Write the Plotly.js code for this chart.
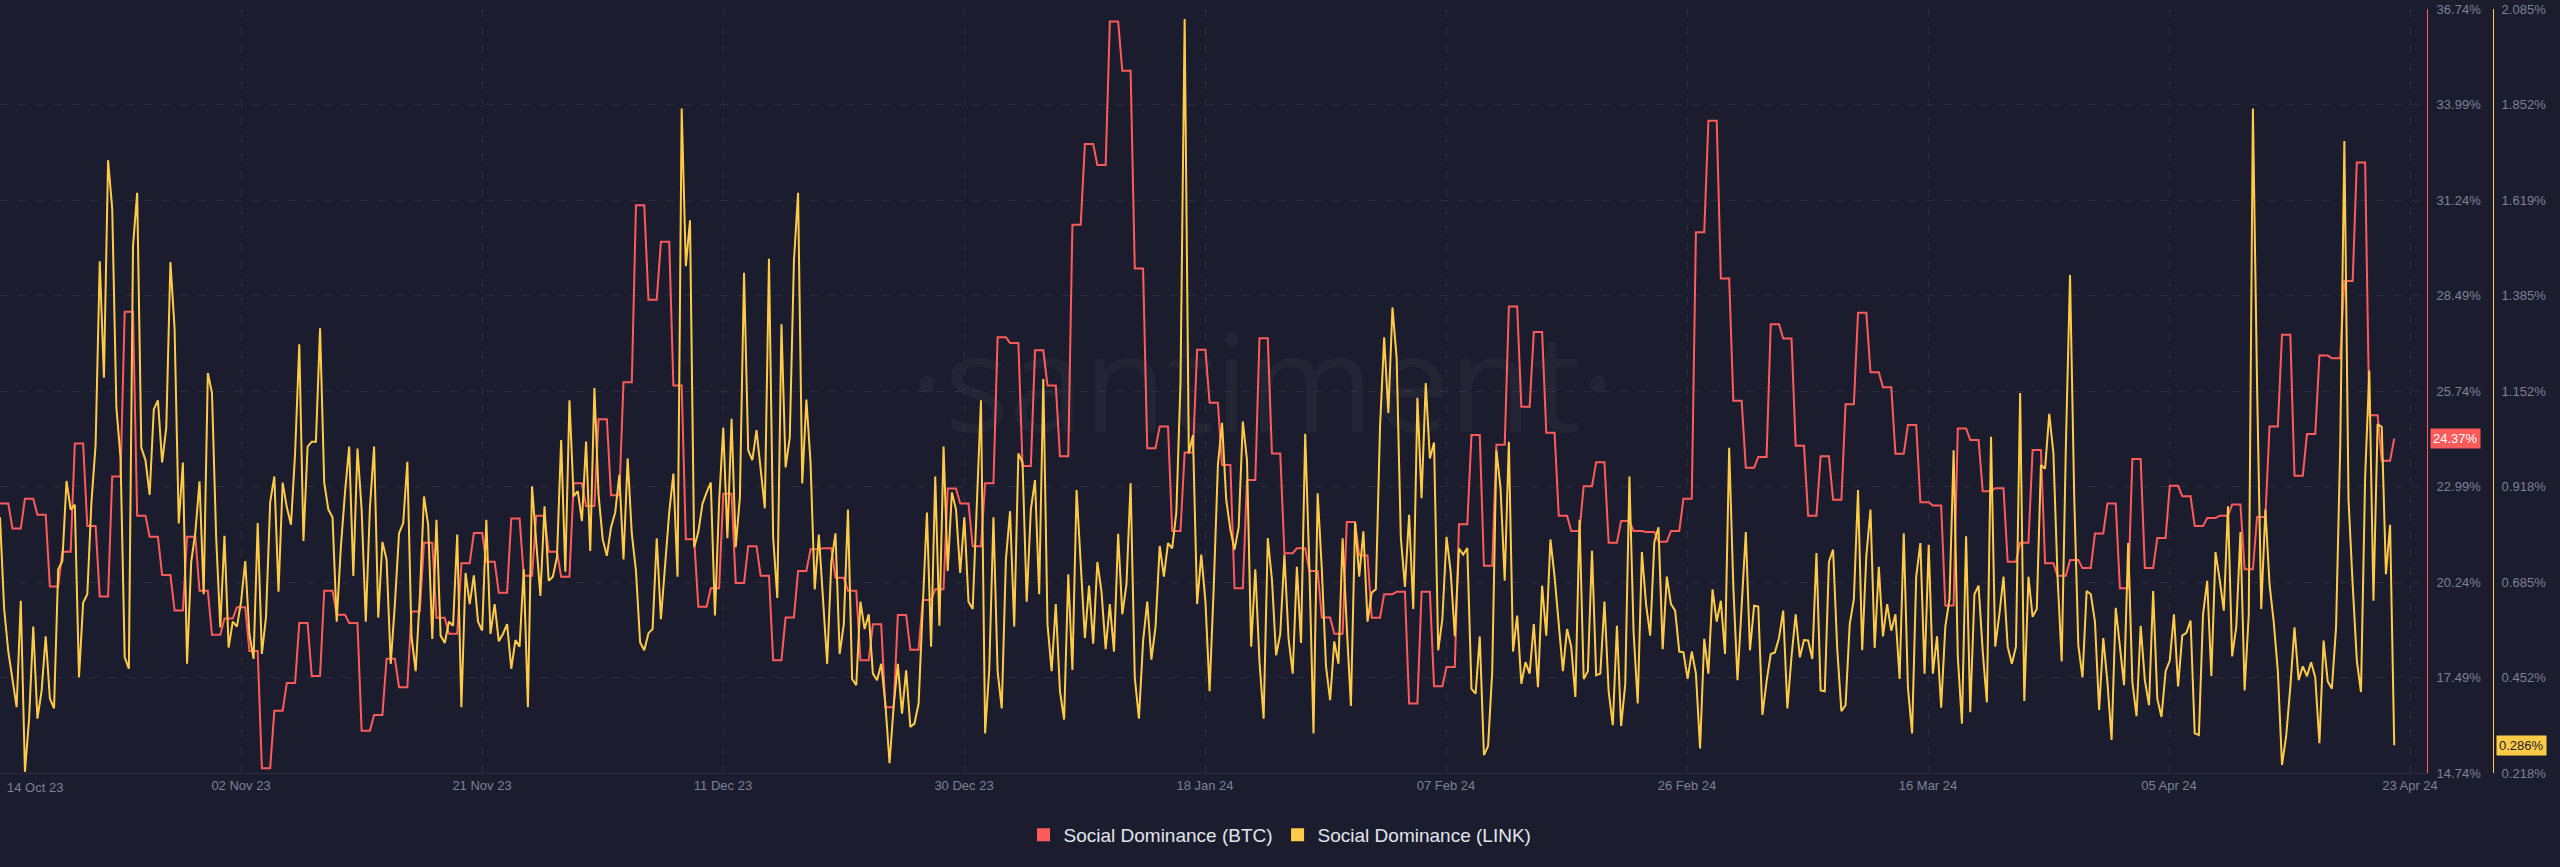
<!DOCTYPE html>
<html>
<head>
<meta charset="utf-8">
<script src="https://cdn.plot.ly/plotly-3.0.1.min.js"></script>
<style>
html,body{margin:0;padding:0;background:#1b1c2d;}
#chart{width:2560px;height:867px;}
</style>
</head>
<body>
<div id="chart"></div>
<script>
// ---------- DATA ----------
const startDate = '2023-10-14T00:00:00Z';   // first sample
const stepHours = 8;                         // sampling interval

// Social Dominance (BTC), one value per day (last day: first sample only)
const btcDaily = [
22.50,21.78,22.64,22.18,20.11,21.11,24.23,21.85,19.82,23.28,
28.02,22.15,21.54,20.44,19.42,21.54,19.99,18.72,19.19,19.51,
18.25,14.88,16.53,17.33,19.06,17.53,19.99,19.30,19.06,15.96,
16.41,18.03,17.21,19.39,21.37,19.21,18.75,20.78,21.65,20.82,
19.93,22.07,20.42,22.15,21.11,20.39,23.08,22.43,24.93,22.74,
25.99,31.09,28.37,30.04,25.90,21.47,19.53,20.06,22.78,20.21,
21.27,20.42,17.99,19.22,20.56,21.18,21.21,20.36,19.99,17.99,
19.02,16.63,19.29,18.29,19.72,20.03,22.93,22.50,21.27,23.08,
27.29,27.12,23.58,26.91,25.90,23.86,30.53,32.85,32.25,36.38,
34.96,29.27,24.09,24.72,21.71,23.97,26.93,25.40,23.61,20.06,
23.18,27.26,23.94,21.07,21.21,20.56,19.22,18.75,21.97,21.00,
19.21,19.89,19.96,16.74,19.96,17.24,17.79,21.90,24.47,20.71,
24.19,28.17,25.29,27.44,24.54,22.15,21.71,23.00,23.69,21.37,
22.00,21.71,21.68,21.40,21.71,22.64,30.31,33.52,28.98,25.46,
23.53,23.84,27.66,27.25,24.16,22.15,23.86,22.61,25.36,27.99,
26.28,25.85,23.93,24.76,22.54,22.44,19.56,24.66,24.33,22.85,
22.94,20.82,21.37,24.04,20.78,20.42,20.87,20.64,21.64,22.50,
20.06,23.78,20.64,21.51,23.01,22.71,21.85,22.08,22.15,22.47,
20.61,22.11,24.72,27.36,23.30,24.50,26.76,26.68,28.91,32.32,
25.04,23.73,24.37
];
const btcSamplesPerDay = 3;

// Social Dominance (LINK), one value every 8 hours
const linkValues = [
0.843,0.619,0.515,0.448,0.379,0.639,0.221,0.351,0.576,0.351,
0.418,0.552,0.400,0.376,0.716,0.736,0.932,0.862,0.874,0.452,
0.634,0.655,0.880,1.020,1.469,1.184,1.716,1.597,1.111,0.989,
0.501,0.473,1.506,1.636,1.013,0.983,0.898,1.107,1.129,0.977,
1.062,1.467,1.305,0.828,0.977,0.485,0.734,0.807,0.931,0.655,
1.196,1.147,0.795,0.574,0.798,0.525,0.588,0.576,0.637,0.736,
0.558,0.497,0.829,0.509,0.600,0.880,0.943,0.661,0.928,0.868,
0.825,1.001,1.266,0.785,1.016,1.028,1.028,1.305,0.928,0.862,
0.843,0.588,0.770,0.904,1.016,0.700,1.011,0.862,0.588,0.868,
1.016,0.598,0.783,0.740,0.485,0.631,0.804,0.829,0.979,0.552,
0.467,0.649,0.894,0.825,0.546,0.837,0.554,0.536,0.588,0.578,
0.801,0.379,0.707,0.631,0.701,0.588,0.566,0.837,0.558,0.631,
0.540,0.558,0.582,0.473,0.543,0.527,0.716,0.379,0.919,0.783,
0.651,0.870,0.688,0.698,0.746,1.032,0.710,1.129,0.894,0.907,
0.834,1.028,0.761,1.159,0.898,0.789,0.749,0.819,0.855,0.947,
0.740,0.987,0.803,0.712,0.537,0.518,0.560,0.570,0.792,0.594,
0.722,0.855,0.950,0.698,1.842,1.457,1.569,0.770,0.807,0.876,
0.904,0.928,0.603,0.880,1.062,0.792,1.084,0.770,0.892,1.441,
1.007,0.983,1.056,0.959,0.865,1.475,0.795,0.646,1.315,0.965,
1.038,1.469,1.636,0.926,1.131,0.977,0.667,0.801,0.649,0.485,
0.734,0.804,0.509,0.582,0.862,0.448,0.433,0.637,0.570,0.606,
0.461,0.445,0.485,0.388,0.242,0.382,0.485,0.363,0.469,0.331,
0.339,0.388,0.625,0.855,0.527,0.943,0.578,1.016,0.712,0.904,
0.862,0.707,0.843,0.637,0.619,0.892,1.129,0.315,0.473,0.843,
0.467,0.376,0.740,0.858,0.576,0.999,0.977,0.637,0.862,0.934,
0.655,1.181,0.582,0.467,0.631,0.418,0.349,0.704,0.470,0.910,
0.740,0.548,0.676,0.534,0.734,0.661,0.521,0.631,0.515,0.803,
0.606,0.679,0.926,0.452,0.351,0.540,0.637,0.495,0.576,0.773,
0.698,0.780,0.767,0.855,1.171,2.061,0.999,1.044,0.631,0.752,
0.637,0.418,0.673,0.971,1.074,0.886,0.813,0.764,0.819,1.077,
0.983,0.527,0.716,0.491,0.351,0.792,0.691,0.506,0.558,0.752,
0.546,0.461,0.722,0.536,1.047,0.722,0.315,0.902,0.716,0.479,
0.396,0.540,0.485,0.792,0.576,0.382,0.831,0.698,0.809,0.588,
0.659,0.667,1.062,1.283,1.098,1.356,1.232,0.795,0.673,0.849,
0.619,1.135,0.890,1.171,0.987,1.026,0.518,0.594,0.795,0.710,
0.552,0.767,0.752,0.768,0.424,0.412,0.552,0.262,0.284,0.467,
1.007,0.914,0.688,1.028,0.515,0.603,0.436,0.489,0.461,0.582,
0.428,0.676,0.554,0.789,0.698,0.588,0.467,0.570,0.527,0.404,
0.837,0.448,0.467,0.761,0.457,0.461,0.637,0.418,0.335,0.578,
0.333,0.436,0.943,0.564,0.388,0.758,0.631,0.554,0.783,0.819,
0.521,0.698,0.631,0.615,0.515,0.513,0.448,0.515,0.461,0.278,
0.546,0.461,0.667,0.588,0.639,0.509,1.013,0.673,0.445,0.625,
0.807,0.518,0.627,0.625,0.360,0.442,0.509,0.513,0.549,0.615,
0.376,0.503,0.606,0.501,0.543,0.542,0.497,0.756,0.420,0.418,
0.734,0.764,0.521,0.369,0.384,0.582,0.643,0.910,0.518,0.749,
0.862,0.524,0.722,0.552,0.631,0.566,0.606,0.448,0.804,0.428,
0.315,0.698,0.780,0.461,0.776,0.461,0.552,0.378,0.576,0.643,
1.007,0.503,0.339,0.797,0.367,0.655,0.676,0.515,0.391,1.040,
0.527,0.606,0.698,0.527,0.485,0.527,1.147,0.394,0.698,0.600,
0.619,0.971,0.962,1.096,1.001,0.698,0.491,1.016,1.435,0.898,
0.530,0.452,0.663,0.655,0.588,0.372,0.548,0.440,0.299,0.622,
0.534,0.433,0.780,0.440,0.357,0.578,0.445,0.384,0.663,0.400,
0.355,0.467,0.493,0.606,0.430,0.554,0.561,0.591,0.315,0.311,
0.606,0.688,0.455,0.758,0.691,0.615,0.870,0.503,0.576,0.807,
0.420,0.606,1.842,1.165,0.619,0.862,0.679,0.588,0.467,0.238,
0.309,0.428,0.574,0.445,0.479,0.455,0.489,0.452,0.291,0.542,
0.442,0.424,0.574,1.013,1.763,0.886,0.679,0.493,0.416,0.941,
1.202,0.639,1.071,1.064,0.704,0.825,0.286
];

const xTickLabels = ['14 Oct 23','02 Nov 23','21 Nov 23','11 Dec 23','30 Dec 23','18 Jan 24',
                     '07 Feb 24','26 Feb 24','16 Mar 24','05 Apr 24','23 Apr 24'];
const btcTickLabels = ['14.74%','17.49%','20.24%','22.99%','25.74%','28.49%','31.24%','33.99%','36.74%'];
const linkTickLabels = ['0.218%','0.452%','0.685%','0.918%','1.152%','1.385%','1.619%','1.852%','2.085%'];
const btcRange = [14.74, 36.74];
const linkRange = [0.2182, 2.0854];
const seriesNames = ['Social Dominance (BTC)', 'Social Dominance (LINK)'];

// ---------- STYLE ----------
const BG = '#1b1c2d';
const RED = '#ff5b5b';
const YEL = '#ffcb47';
const GRID = '#2a2c40';
const TXT = '#7d8298';
const FONT = 'Liberation Sans, Arial, sans-serif';

// ---------- BUILD ----------
const t0 = Date.parse(startDate);
const HOUR = 3600 * 1000, DAY = 24 * HOUR;
function fmt(ms) { return new Date(ms).toISOString().slice(0, 19).replace('T', ' '); }

const linkX = linkValues.map((_, i) => fmt(t0 + i * stepHours * HOUR));
const nBtc = (btcDaily.length - 1) * btcSamplesPerDay + 1;
const btcX = [], btcY = [];
for (let j = 0; j < nBtc; j++) {
  btcX.push(fmt(t0 + j * stepHours * HOUR));
  btcY.push(btcDaily[Math.floor(j / btcSamplesPerDay)]);
}

// axis geometry
const plotRightPx = 2427, pageW = 2560;
const pxPerDay = 12.47;
const spanDays = plotRightPx / pxPerDay;
const xRange = [fmt(t0), fmt(t0 + spanDays * DAY)];
const tickStepDays = 241 / pxPerDay;
const xTickVals = [], xTickText = [];
for (let k = 1; k < xTickLabels.length; k++) {
  xTickVals.push(fmt(t0 + k * tickStepDays * DAY));
  xTickText.push(xTickLabels[k]);
}
const nInt = btcTickLabels.length - 1;
const btcTickVals = btcTickLabels.map((_, k) => btcRange[0] + k * (btcRange[1] - btcRange[0]) / nInt);
const linkTickVals = linkTickLabels.map((_, k) => linkRange[0] + k * (linkRange[1] - linkRange[0]) / nInt);

const traces = [
  {x: btcX, y: btcY, type: 'scatter', mode: 'lines', name: seriesNames[0], yaxis: 'y',
   line: {color: RED, width: 2}, showlegend: false, hoverinfo: 'skip'},
  {x: linkX, y: linkValues, type: 'scatter', mode: 'lines', name: seriesNames[1], yaxis: 'y2',
   line: {color: YEL, width: 2}, showlegend: false, hoverinfo: 'skip'},
  {x: [null], y: [null], type: 'scatter', mode: 'markers', name: seriesNames[0],
   marker: {symbol: 'square', size: 13, color: RED}, showlegend: true},
  {x: [null], y: [null], type: 'scatter', mode: 'markers', name: seriesNames[1], yaxis: 'y2',
   marker: {symbol: 'square', size: 13, color: YEL}, showlegend: true}
];

const layout = {
  width: 2560, height: 867,
  paper_bgcolor: BG, plot_bgcolor: BG,
  margin: {l: 0, r: 0, t: 9, b: 94, pad: 0},
  font: {family: FONT, color: TXT, size: 13},
  showlegend: true,
  legend: {orientation: 'h', x: 0.5, xanchor: 'center', y: -0.081, yanchor: 'middle',
           font: {size: 19, color: '#e2e5ee', family: FONT}, bgcolor: 'rgba(0,0,0,0)', itemwidth: 30},
  xaxis: {
    type: 'date', domain: [0, plotRightPx / pageW], range: xRange,
    tickmode: 'array', tickvals: xTickVals, ticktext: xTickText,
    showgrid: true, gridcolor: GRID, griddash: '8px,10px', gridwidth: 1,
    showline: true, linecolor: GRID, linewidth: 1, zeroline: false, ticks: '',
    tickfont: {size: 13, color: TXT, family: FONT}, fixedrange: true
  },
  yaxis: {
    side: 'right', anchor: 'x', range: btcRange,
    tickmode: 'array', tickvals: btcTickVals, ticktext: btcTickLabels,
    showgrid: true, gridcolor: GRID, griddash: '8px,10px', gridwidth: 1,
    showline: true, linecolor: RED, linewidth: 1, zeroline: false, ticks: '',
    ticklabelstandoff: 6,
    tickfont: {size: 13, color: TXT, family: FONT}, fixedrange: true
  },
  yaxis2: {
    overlaying: 'y', side: 'right', anchor: 'free', position: 2493 / pageW, range: linkRange,
    tickmode: 'array', tickvals: linkTickVals, ticktext: linkTickLabels,
    showgrid: false, showline: true, linecolor: YEL, linewidth: 1, zeroline: false, ticks: '',
    ticklabelstandoff: 5,
    tickfont: {size: 13, color: TXT, family: FONT}, fixedrange: true
  },
  annotations: [
    {text: '·santiment·', xref: 'paper', yref: 'paper', x: 1262 / pageW, y: 0.514,
     xanchor: 'center', yanchor: 'middle', showarrow: false,
     font: {family: 'Open Sans, sans-serif', size: 135, color: 'rgba(255,255,255,0.035)'}},
    {text: xTickLabels[0], xref: 'x', yref: 'paper', x: fmt(t0), y: 0, xanchor: 'left', yanchor: 'top',
     xshift: 5, yshift: -5, showarrow: false, font: {size: 13, color: TXT, family: FONT}},
    {text: btcDaily[btcDaily.length - 1].toFixed(2) + '%', xref: 'paper', yref: 'y',
     x: plotRightPx / pageW, y: btcDaily[btcDaily.length - 1], xanchor: 'left', yanchor: 'middle',
     xshift: 3, showarrow: false, bgcolor: RED, borderpad: 2,
     font: {size: 13, color: '#ffffff', family: FONT}},
    {text: linkValues[linkValues.length - 1].toFixed(3) + '%', xref: 'paper', yref: 'y2',
     x: 2493 / pageW, y: linkValues[linkValues.length - 1], xanchor: 'left', yanchor: 'middle',
     xshift: 3, showarrow: false, bgcolor: YEL, borderpad: 2,
     font: {size: 13, color: BG, family: FONT}}
  ]
};

Plotly.newPlot('chart', traces, layout, {staticPlot: true, displayModeBar: false});
</script>
</body>
</html>
